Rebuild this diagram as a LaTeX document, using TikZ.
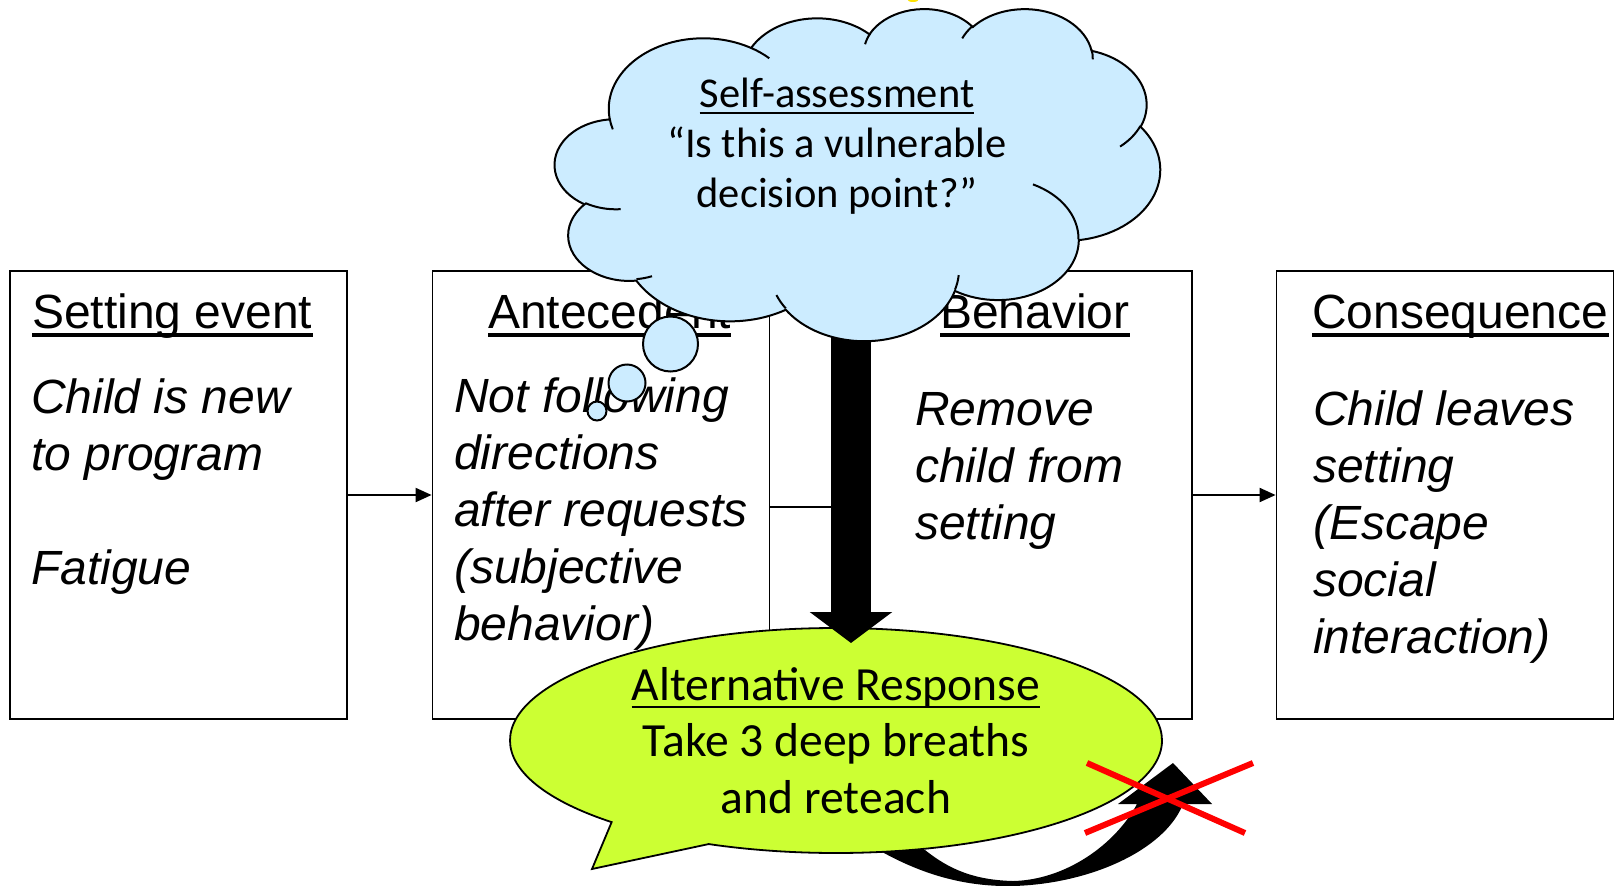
\documentclass[tikz,border=0pt]{standalone}
\usepackage{fontspec}
\setmainfont{Liberation Sans}
\newfontfamily\calib{Carlito}
\usetikzlibrary{arrows.meta,shapes.callouts}
\definecolor{cloudblue}{HTML}{CCECFF}
\definecolor{altgreen}{HTML}{CCFF33}
\definecolor{xred}{HTML}{FF0000}
\begin{document}
\begin{tikzpicture}[x=1pt,y=-1pt,
  abcbox/.style={draw=black, line width=1.8pt, minimum width=337pt, minimum height=448pt, inner sep=0pt},
  boxtitle/.style={anchor=base west, inner sep=0pt, font=\fontsize{48}{57}\selectfont},
  boxbody/.style={anchor=base west, inner sep=0pt, align=left, font=\fontsize{48}{57}\selectfont\itshape},
  uline/.style={line width=3.3pt},
  conn/.style={line width=2pt, -{Triangle[length=16pt,width=14pt]}},
  cldtext/.style={anchor=base, inner sep=0pt, align=center, font=\calib\fontsize{42.5}{50}\selectfont},
  alttext/.style={anchor=base, inner sep=0pt, align=center, font=\calib\fontsize{47.6}{56.5}\selectfont},
  cldline/.style={line width=2pt, draw=black},
  bubble/.style={circle, draw=black, line width=2pt, fill=cloudblue, inner sep=0pt},
  cldarc/.style n args={4}{insert path={arc[x radius=#1, y radius=#2,
     start angle={atan2((#1)*sin(#3),(#2)*cos(#3))},
     delta angle={mod(atan2((#1)*sin(#3+#4),(#2)*cos(#3+#4))-atan2((#1)*sin(#3),(#2)*cos(#3))+720,360)}]}},
  ]
\useasboundingbox (0,0) rectangle (1617,886);
\fill[white] (0,0) rectangle (1617,886);

% boxes
\node[abcbox] (setbox) at (178.5,495) {};
\node[abcbox] (antbox) at (601,495) {};
\node[abcbox] (behbox) at (1023.5,495) {};
\node[abcbox] (conbox) at (1445,495) {};

% titles
\node[boxtitle] (settitle) at (32,328) {Setting event};
\node[boxtitle] (anttitle) at (488,328) {Antecedent};
\node[boxtitle] (behtitle) at (940,328) {Behavior};
\node[boxtitle] (contitle) at (1312,328) {Consequence};
\foreach \t in {settitle,anttitle,behtitle,contitle}
  \draw[uline] ([yshift=-7pt]\t.base west) -- ([yshift=-7pt]\t.base east);

% bodies (anchored at the baseline of their last line)
\node[boxbody] (setbody) at (31,584) {Child is new\\to program\\[57pt]Fatigue};
\node[boxbody] (antbody) at (454,640) {Not following\\directions\\after requests\\(subjective\\behavior)};
\node[boxbody] (behbody) at (915,539) {Remove\\child from\\setting};
\node[boxbody] (conbody) at (1313,653) {Child leaves\\setting\\(Escape\\social\\interaction)};

% connectors
\draw[conn] (setbox.east) -- (antbox.west);
\draw[conn] ([yshift=-12pt]antbox.east) -- ([yshift=-12pt]behbox.west);
\draw[conn] (behbox.east) -- (conbox.west);

% curved arrow under the callout
\fill[black] (870,845) .. controls (915,872) and (960,887) .. (1013,886)
  .. controls (1090,884) and (1165,850) .. (1183,804) -- (1212,804) -- (1173,763)
  -- (1118,804) -- (1137,804) .. controls (1115,845) and (1065,880) .. (1013,881)
  .. controls (975,880) and (950,870) .. (925,850) -- cycle;

% green callout
\node[ellipse callout, draw=black, line width=1.8pt, fill=altgreen, inner sep=0pt,
  minimum width=652pt, minimum height=225pt,
  callout absolute pointer={(592,869)}, callout pointer arc=20.5] (alt) at (836,740.5) {};
\node[alttext] (alttitle) at (836,700) {Alternative Response};
\draw[line width=2.8pt] ([yshift=-7pt]alttitle.base west) -- ([yshift=-7pt]alttitle.base east);
\node[alttext] (altbody) at (836,813) {Take 3 deep breaths\\and reteach};

% big black arrow
\coordinate (bigstart) at (851,330);
\coordinate (bigend) at (851,643);
\draw[line width=40pt, -{Triangle[length=31pt,width=81pt]}] (bigstart) -- (bigend);

% tiny yellow mark at the top
\fill[yellow!85!orange] (913,-1) ellipse [x radius=6, y radius=3];

% cloud
\begin{scope}[shift={(555,8)}, x=1.400463pt, y=-0.768519pt]
\path[cldline, fill=cloudblue] (39.00,143.70)
  [cldarc={67.53}{91.90}{-190.4875}{123.7805}]
  [cldarc={53.33}{72.67}{-144.1024}{89.9452}]
  [cldarc={43.65}{59.45}{-145.8079}{99.7230}]
  [cldarc={48.57}{65.95}{-130.9861}{117.2417}]
  [cldarc={53.33}{72.73}{-78.7089}{109.0269}]
  [cldarc={67.75}{92.20}{-46.2673}{130.2690}]
  [cldarc={57.85}{78.67}{0.6250}{114.0333}]
  [cldarc={67.52}{92.15}{22.4516}{115.1726}]
  [cldarc={77.20}{105.43}{66.2426}{75.7110}]
  [cldarc={43.60}{59.18}{-274.9421}{146.7356}]
  [cldarc={43.45}{59.45}{-246.8285}{152.5189}] -- cycle;
\draw[cldline]
  (46.93,261.77) [cldarc={43.45}{59.45}{86.7420}{26.4295}]
  (69.28,348.99) [cldarc={43.60}{59.18}{73.6105}{11.4475}]
  (164.78,390.90) [cldarc={67.52}{92.15}{137.6242}{14.0811}]
  (288.27,347.51) [cldarc={67.52}{92.15}{6.4533}{15.9984}]
  (341.29,229.54) [cldarc={57.85}{78.67}{-70.2924}{70.9174}]
  (417.98,153.54) [cldarc={53.33}{72.73}{30.3180}{27.7515}]
  (383.24,54.26) [cldarc={48.57}{65.95}{-13.7443}{14.8600}]
  (290.78,39.52) [cldarc={48.57}{65.95}{-149.1815}{18.1954}]
  (221.41,47.20) [cldarc={43.65}{59.45}{-163.4943}{17.6864}]
  (140.00,51.92) [cldarc={67.53}{91.90}{-66.7070}{12.3194}]
  (41.27,157.89) [cldarc={67.53}{91.90}{157.6544}{11.8582}];
\end{scope}
\node[bubble, minimum size=55pt] (bub1) at (670.5,344) {};
\node[bubble, minimum size=37pt] (bub2) at (627,383) {};
\node[bubble, minimum size=19pt] (bub3) at (597,411) {};

\node[cldtext] (cldtitle) at (837,107) {Self-assessment};
\draw[line width=2.5pt] ([yshift=-6pt]cldtitle.base west) -- ([yshift=-6pt]cldtitle.base east);
\node[cldtext] (cldbody) at (837,207) {“Is this a vulnerable\\decision point?”};

% red cross
\coordinate (xa1) at (1087,763);
\coordinate (xa2) at (1245,833);
\coordinate (xb1) at (1253,763);
\coordinate (xb2) at (1085,833);
\draw[xred, line width=6pt] (xa1) -- (xa2);
\draw[xred, line width=6pt] (xb1) -- (xb2);
\end{tikzpicture}
\end{document}
